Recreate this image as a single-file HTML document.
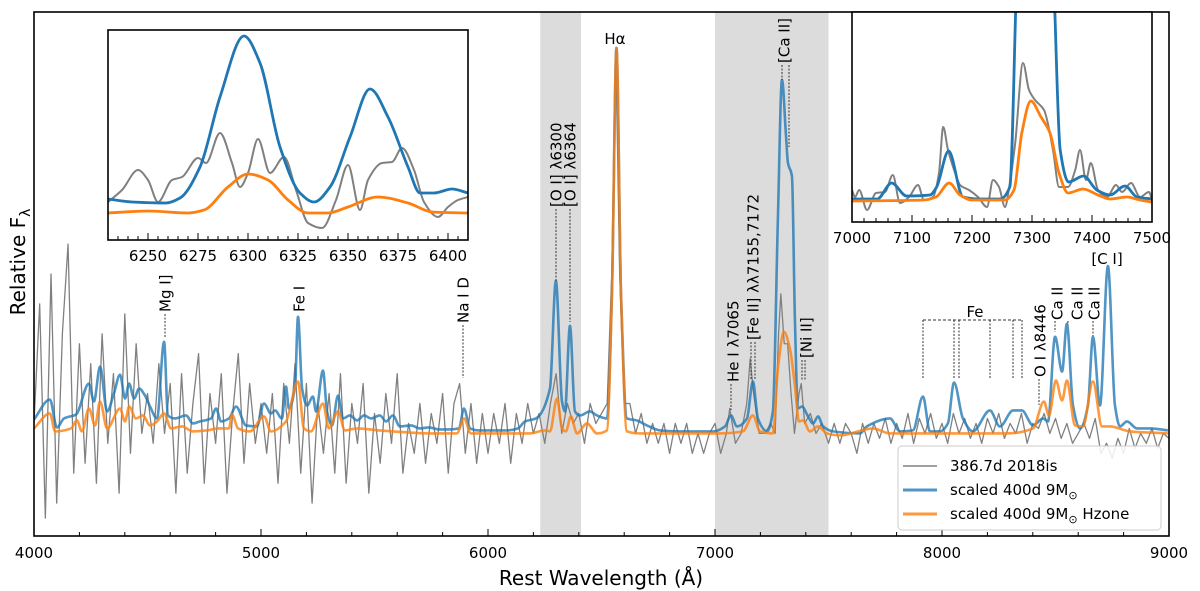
<!DOCTYPE html>
<html><head><meta charset="utf-8"><style>
body{margin:0;background:#fff;}
svg{display:block;font-family:"DejaVu Sans","Liberation Sans",sans-serif;}
</style></head><body>
<svg id="chart" width="1200" height="591" viewBox="0 0 1200 591" xmlns="http://www.w3.org/2000/svg">
<defs>
<clipPath id="mainClip"><rect x="34" y="12" width="1135" height="524"/></clipPath>
<clipPath id="lClip"><rect x="108" y="30" width="360" height="210"/></clipPath>
<clipPath id="rClip"><rect x="852" y="12" width="300" height="210"/></clipPath>
</defs>
<g id="bands"></g>
<g id="mainSeries" clip-path="url(#mainClip)"></g>
<g id="annot"></g>
<g id="axes"></g>
<g id="insetL"></g>
<g id="insetR"></g>
<g id="legend"></g>
</svg>
<script>
// ===== main spectrum data =====
const grayWlA = []; for(let w=4000;w<=6525;w+=25) grayWlA.push(w);
const grayWlB = [6545,6563,6580,6600];
const grayWlC = []; for(let w=6625;w<=7050;w+=25) grayWlC.push(w);
const grayWlD = [7065,7090,7115,7140,7155,7170,7195,7220,7245,7265,7280,7290,7305,7320,7335,7350,7370,7380,7395,7420,7445,7470];
const grayWlE = []; for(let w=7500;w<=9000;w+=25) grayWlE.push(w);
const grayWl = grayWlA.concat(grayWlB,grayWlC,grayWlD,grayWlE);
const grayFlux = [
1.1,2.3,0.15,2.6,0.3,2.0,2.9,0.6,1.9,0.7,
1.7,0.5,2.0,0.9,1.6,0.4,2.2,0.8,1.9,1.0,
1.4,0.9,1.7,1.0,1.5,0.4,1.6,0.6,1.3,1.8,
0.5,1.4,0.9,1.6,0.4,1.2,1.8,0.7,1.5,0.9,
1.3,0.8,1.4,0.5,1.5,0.9,1.7,0.6,1.5,0.3,
1.3,0.8,1.4,0.6,1.6,0.5,1.3,0.9,1.5,0.4,
1.2,0.7,1.4,0.9,1.6,0.6,1.1,0.8,1.3,0.7,
1.2,0.9,1.4,0.6,1.3,1.5,0.8,1.3,0.7,1.2,
0.8,1.2,0.9,1.3,0.7,1.2,0.9,1.3,1.0,1.2,
0.9,1.3,1.6,1.0,1.3,1.1,1.2,0.9,1.3,1.1,
1.2,1.3,
2.6,4.85,2.6,1.3,
1.3,1.0,1.2,0.9,1.1,0.9,1.1,0.8,1.1,0.9,1.1,0.8,1.0,0.8,1.0,1.1,0.8,1.0,
1.25,0.9,1.0,1.3,1.75,1.4,1.0,1.0,1.1,1.0,2.0,2.4,1.9,1.9,1.4,1.0,1.4,1.5,1.1,1.2,1.0,1.1,
0.9,1.1,0.9,1.1,1.0,0.8,1.1,0.9,1.1,0.95,
1.15,0.9,1.1,0.95,1.2,0.9,1.15,1.0,1.2,0.95,
1.1,0.9,1.2,1.0,1.15,0.95,1.1,0.9,1.15,1.0,
1.2,0.95,1.1,1.0,1.2,0.9,1.1,1.05,1.2,1.0,
1.15,0.95,1.1,0.9,1.0,1.1,0.95,1.15,0.8,0.9,
0.75,0.95,0.8,1.05,0.85,1.0,0.9,1.05,0.85,1.0,
0.95];

const blueWl = [4000,4070,4101,4132,4185,4242,4264,4291,4322,4352,4379,4401,4419,4441,4463,4489,4511,4542,4573,4590,4621,4670,4700,4731,4780,4802,4824,4859,4890,4934,4982,5013,5044,5062,5092,5110,5123,5150,5163,5181,5203,5229,5242,5273,5291,5313,5339,5361,5392,5423,5454,5485,5524,5551,5581,5612,5661,5700,5740,5784,5832,5872,5894,5921,5960,6022,6084,6132,6163,6211,6273,6299,6326,6339,6361,6383,6405,6449,6480,6524,6546,6566,6586,6612,6656,6700,6758,6846,6991,7044,7070,7097,7141,7167,7189,7229,7255,7277,7295,7313,7321,7339,7352,7365,7383,7410,7432,7454,7476,7520,7639,7669,7771,7815,7872,7916,7947,7991,8026,8053,8092,8136,8211,8255,8313,8352,8401,8445,8467,8498,8529,8550,8577,8608,8643,8665,8696,8731,8762,8784,8815,8859,8916,8995];
const blueFlux = [1.14,1.34,1.06,1.15,1.19,1.50,1.32,1.67,1.22,1.40,1.59,1.35,1.50,1.35,1.45,1.38,1.27,1.15,1.92,1.18,1.15,1.18,1.10,1.12,1.15,1.25,1.12,1.15,1.27,1.08,1.07,1.30,1.20,1.23,1.15,1.47,1.25,1.48,2.17,1.45,1.28,1.37,1.22,1.63,1.22,1.08,1.38,1.15,1.18,1.13,1.18,1.15,1.18,1.12,1.18,1.07,1.08,1.05,1.06,1.04,1.04,1.05,1.25,1.05,1.03,1.03,1.03,1.05,1.12,1.15,1.45,2.53,1.32,1.22,2.08,1.22,1.18,1.22,1.18,1.15,2.4,4.87,2.4,1.15,1.13,1.08,1.03,1.02,1.02,1.07,1.18,1.07,1.15,1.52,1.15,1.02,1.22,3.15,4.55,3.98,3.72,3.58,2.15,1.25,1.27,1.17,1.10,1.17,1.07,1.02,1.00,1.07,1.15,1.02,1.03,1.37,1.02,1.02,1.10,1.51,1.15,1.02,1.23,1.07,1.23,1.23,1.08,1.15,1.12,1.97,1.62,2.10,1.28,1.05,1.28,1.97,1.28,2.68,1.28,1.07,1.12,1.05,1.05,1.03];

const orangeWl = [4000,4070,4093,4163,4189,4211,4242,4269,4291,4322,4379,4401,4419,4449,4480,4511,4542,4573,4604,4652,4700,4762,4811,4859,4872,4899,4951,5013,5044,5110,5163,5189,5220,5273,5299,5339,5370,5423,5520,5581,5740,5863,5894,5925,6114,6185,6251,6273,6304,6326,6343,6365,6392,6436,6480,6524,6546,6566,6586,6612,6669,7022,7123,7167,7198,7255,7277,7304,7330,7352,7370,7388,7418,7454,7493,7550,7696,7771,8286,8401,8449,8471,8502,8529,8550,8586,8621,8665,8705,8740,8828,8995];
const orangeFlux = [1.05,1.20,1.02,1.05,1.13,1.02,1.25,1.08,1.32,1.05,1.25,1.12,1.27,1.15,1.18,1.08,1.12,1.20,1.05,1.07,1.02,1.03,1.05,1.05,1.19,1.05,1.02,1.17,1.02,1.12,1.52,1.05,1.02,1.30,1.05,1.22,1.03,1.05,1.03,1.02,1.00,1.00,1.15,1.00,1.00,1.00,1.03,1.02,1.35,1.05,1.02,1.17,1.00,1.10,1.00,1.03,2.4,4.87,2.4,1.02,1.00,1.00,1.02,1.18,1.02,1.00,1.65,2.02,1.85,1.48,1.12,1.13,1.02,1.07,1.00,0.98,1.05,1.00,1.00,1.05,1.32,1.18,1.53,1.33,1.53,1.08,1.07,1.52,1.07,1.07,1.02,1.00];

// ===== left inset ([O I]) data =====
const lBlueWl = [6230,6242,6259,6266,6276,6286,6298,6306,6316,6326,6333,6341,6351,6361,6370,6380,6386,6393,6402,6410];
const lBlueVal = [0.41,0.38,0.37,0.42,0.73,1.43,2.04,1.77,0.93,0.47,0.38,0.53,1.03,1.51,1.23,0.73,0.47,0.47,0.51,0.47];
const lOrangeWl = [6230,6250,6270,6278,6290,6300,6310,6320,6330,6340,6350,6365,6380,6392,6410];
const lOrangeVal = [0.27,0.29,0.27,0.30,0.53,0.66,0.60,0.40,0.27,0.27,0.33,0.43,0.37,0.28,0.27];
const lGrayWl = [6230,6237,6245,6250,6255,6262,6267,6275,6279,6286,6292,6296,6300,6305,6311,6318,6324,6330,6337,6344,6350,6356,6360,6367,6372,6377,6383,6388,6395,6400,6405,6410];
const lGrayVal = [0.38,0.50,0.70,0.60,0.38,0.60,0.63,0.82,0.77,1.07,0.77,0.53,0.67,1.01,0.67,0.83,0.50,0.17,0.12,0.40,0.75,0.30,0.60,0.77,0.78,0.92,0.70,0.38,0.23,0.33,0.40,0.43];

// ===== right inset ([Ca II]) data =====
const rBlueWl = [7000,7042,7066,7091,7130,7141,7161,7185,7213,7247,7263,7277,7300,7333,7347,7361,7386,7408,7430,7455,7475,7500];
const rBlueVal = [0.23,0.23,0.39,0.26,0.27,0.35,0.71,0.25,0.23,0.23,0.35,2.80,3.76,2.80,0.72,0.40,0.46,0.32,0.27,0.36,0.25,0.23];
const rOrangeWl = [7000,7120,7140,7162,7180,7200,7255,7270,7283,7298,7315,7330,7345,7360,7385,7410,7430,7458,7480,7500];
const rOrangeVal = [0.21,0.22,0.25,0.39,0.27,0.22,0.22,0.32,0.89,1.21,1.05,0.89,0.49,0.29,0.33,0.27,0.23,0.25,0.22,0.20];
const rGrayWl = [7000,7005,7012,7025,7040,7055,7068,7080,7095,7110,7120,7135,7145,7152,7160,7172,7180,7195,7210,7225,7235,7245,7255,7262,7272,7285,7295,7305,7320,7335,7345,7360,7372,7380,7390,7398,7410,7425,7440,7450,7465,7480,7495,7500];
const rGrayVal = [0.32,0.25,0.32,0.12,0.29,0.30,0.47,0.19,0.25,0.37,0.22,0.25,0.49,0.95,0.72,0.49,0.37,0.32,0.25,0.15,0.42,0.35,0.15,0.35,0.79,1.59,1.32,1.22,1.12,0.72,0.35,0.35,0.52,0.72,0.42,0.59,0.32,0.25,0.37,0.30,0.39,0.25,0.30,0.22];

// tick labels
const mainTicks = [4000,5000,6000,7000,8000,9000];
const lTicks = [6250,6275,6300,6325,6350,6375,6400];
const rTicks = [7000,7100,7200,7300,7400,7500];

const NS = "http://www.w3.org/2000/svg";
function mk(tag, attrs, parent){const e=document.createElementNS(NS,tag);for(const k in attrs)e.setAttribute(k,attrs[k]);parent.appendChild(e);return e;}
function lin(d0,d1,r0,r1){return v=>r0+(v-d0)*(r1-r0)/(d1-d0);}
function monoPath(xs,ys){
  const n=xs.length; if(n<2) return "";
  const dx=[],m=[],t=[];
  for(let i=0;i<n-1;i++){dx[i]=xs[i+1]-xs[i]; m[i]=dx[i]===0?0:(ys[i+1]-ys[i])/dx[i];}
  t[0]=m[0]; t[n-1]=m[n-2];
  for(let i=1;i<n-1;i++){ if(m[i-1]*m[i]<=0) t[i]=0; else { const w1=2*dx[i]+dx[i-1], w2=dx[i]+2*dx[i-1]; t[i]=(w1+w2)/(w1/m[i-1]+w2/m[i]); } }
  let d="M"+xs[0].toFixed(2)+","+ys[0].toFixed(2);
  for(let i=0;i<n-1;i++){const h=dx[i]/3;
    d+="C"+(xs[i]+h).toFixed(2)+","+(ys[i]+t[i]*h).toFixed(2)+" "+(xs[i+1]-h).toFixed(2)+","+(ys[i+1]-t[i+1]*h).toFixed(2)+" "+xs[i+1].toFixed(2)+","+ys[i+1].toFixed(2);}
  return d;
}
function linPath(xs,ys){return xs.map((x,i)=>(i?"L":"M")+x.toFixed(2)+","+ys[i].toFixed(2)).join("");}
function sortPairs(wl,v){const n=Math.min(wl.length,v.length);const p=[];for(let i=0;i<n;i++)p.push([wl[i],v[i]]);p.sort((a,b)=>a[0]-b[0]);return [p.map(q=>q[0]),p.map(q=>q[1])];}

const X=lin(4000,9000,34,1169);
const Y=lin(-0.03,5.23,536,12);

// bands
const bands=document.getElementById('bands');
let b1=mk('rect',{x:X(6230),y:12,width:X(6410)-X(6230),height:524,fill:'#dcdcdc'},bands);


let b2=mk('rect',{x:X(7000),y:12,width:X(7500)-X(7000),height:524,fill:'#dcdcdc'},bands);



const ms=document.getElementById('mainSeries');
function drawSeries(parent,wl,vals,xs,ys,stroke,w,op,name,smooth){
  const s=sortPairs(wl,vals);
  const px=s[0].map(xs), py=s[1].map(ys);
  const p=mk('path',{d:smooth?monoPath(px,py):linPath(px,py),fill:'none',stroke:stroke,'stroke-width':w,'stroke-opacity':op,'stroke-linejoin':'round'},parent);
  
  
  return p;
}
drawSeries(ms,grayWl,grayFlux,X,Y,'#808080',1.3,1,'observed-spectrum-line',false);
drawSeries(ms,blueWl,blueFlux,X,Y,'#1f77b4',2.6,0.78,'model-9msun-line',true);
drawSeries(ms,orangeWl,orangeFlux,X,Y,'#ff7f0e',2.6,0.8,'model-9msun-hzone-line',true);

// annotations
const an=document.getElementById('annot');
function vlabel(x,bottom,txt,name){
  const t=mk('text',{x:x,y:bottom,transform:`rotate(-90 ${x} ${bottom})`,'font-size':15,dy:'0.36em'},an);
  t.textContent=txt;
  
  
}
function dline(x,y1,y2){const l=mk('line',{x1:x,x2:x,y1:y1,y2:y2,stroke:'#333','stroke-width':1,'stroke-dasharray':'2,1.5'},an);
  
  }
vlabel(165,312,'Mg I]','mg-i-label'); dline(165,314,337);
vlabel(299,312,'Fe I','fe-i-label');
vlabel(463,323,'Na I D','na-i-d-label'); dline(463,325,378);
vlabel(556,207,'[O I] λ6300','oi-6300-label'); dline(556,209,282);
vlabel(570,207,'[O I] λ6364','oi-6364-label'); dline(570,209,322);
vlabel(733,382,'He I λ7065','he-i-label'); dline(731,384,410);
vlabel(753,340,'[Fe II] λλ7155,7172','fe-ii-label'); dline(751,342,380); dline(755,342,380);
vlabel(784,63,'[Ca II]','ca-ii-forbidden-label'); dline(782,65,80); dline(789,65,147);
vlabel(806,358,'[Ni II]','ni-ii-label'); dline(802,360,380); dline(805,360,380);
vlabel(1040,377,'O I λ8446','o-i-8446-label'); dline(1039,379,405);
vlabel(1057,320,'Ca II','ca-ii-8498-label'); dline(1055,321,332);
vlabel(1077,320,'Ca II','ca-ii-8542-label'); dline(1068,321,325);
vlabel(1094,320,'Ca II','ca-ii-8662-label'); dline(1093,321,336);
let ha=mk('text',{x:615,y:44,'font-size':15,'text-anchor':'middle'},an); ha.textContent='Hα';


let ci=mk('text',{x:1107,y:264,'font-size':15,'text-anchor':'middle'},an); ci.textContent='[C I]';


let fe=mk('text',{x:975,y:317,'font-size':15,'text-anchor':'middle'},an); fe.textContent='Fe';


let fb=mk('line',{x1:923,x2:1022,y1:320,y2:320,stroke:'#333','stroke-width':1,'stroke-dasharray':'3,2'},an);


[923,954,959,990,1013,1022].forEach(x=>dline(x,320,378));

// main axes
const ax=document.getElementById('axes');
let fr=mk('rect',{x:34,y:12,width:1135,height:524,fill:'none',stroke:'#000','stroke-width':1.6},ax);


for(let w=4000;w<=9000;w+=200){const maj=w%1000===0;mk('line',{x1:X(w),x2:X(w),y1:536,y2:536-(maj?7:4),stroke:'#000','stroke-width':1},ax);}
mainTicks.forEach(w=>{const t=mk('text',{x:X(w),y:558,'font-size':15,'text-anchor':'middle'},ax);t.textContent=w;
  
  });
let xl=mk('text',{x:601,y:585,'font-size':20,'text-anchor':'middle'},ax); xl.textContent='Rest Wavelength (Å)';


let yl=mk('text',{x:25,y:262,'font-size':20,'text-anchor':'middle',transform:'rotate(-90 25 262)'},ax);
yl.innerHTML='Relative F<tspan font-size="14" dy="5">λ</tspan>';



// insets
function inset(gid,x0,x1,y0,y1,d0,d1,vmax,clip,series,ticks,minorStep,majorStep,name){
  const g=document.getElementById(gid);
  
  
  mk('rect',{x:x0,y:y0,width:x1-x0,height:y1-y0,fill:'#fff'},g);
  const xs=lin(d0,d1,x0,x1), ys=lin(0,vmax,y1,y0);
  const sg=mk('g',{'clip-path':`url(#${clip})`},g);
  series.forEach(s=>drawSeries(sg,s[0],s[1],xs,ys,s[2],s[3],1,s[4],true));
  mk('rect',{x:x0,y:y0,width:x1-x0,height:y1-y0,fill:'none',stroke:'#000','stroke-width':1.6},g);
  for(let w=Math.ceil(d0/minorStep)*minorStep;w<=d1;w+=minorStep){const maj=Math.abs(w%majorStep)<1e-6;mk('line',{x1:xs(w),x2:xs(w),y1:y1,y2:y1-(maj?7:4),stroke:'#000','stroke-width':1},g);}
  ticks.forEach(w=>{const t=mk('text',{x:xs(w),y:y1+21,'font-size':15,'text-anchor':'middle'},g);t.textContent=w;
    
    });
}
inset('insetL',108,468,30,240,6230,6410,2.1,'lClip',[
  [lGrayWl,lGrayVal,'#808080',2,'inset-oi-observed'],
  [lBlueWl,lBlueVal,'#1f77b4',2.8,'inset-oi-model'],
  [lOrangeWl,lOrangeVal,'#ff7f0e',2.8,'inset-oi-model-hzone']],lTicks,5,25,'oi-inset');
inset('insetR',852,1152,12,222,7000,7500,2.1,'rClip',[
  [rGrayWl,rGrayVal,'#808080',2,'inset-caii-observed'],
  [rBlueWl,rBlueVal,'#1f77b4',2.8,'inset-caii-model'],
  [rOrangeWl,rOrangeVal,'#ff7f0e',2.8,'inset-caii-model-hzone']],rTicks,20,100,'caii-inset');

// legend
const lg=document.getElementById('legend');


mk('rect',{x:898,y:446,width:263,height:84,rx:4,fill:'#fff','fill-opacity':0.85,stroke:'#ccc','stroke-width':1},lg);
const legItems=[['386.7d 2018is','#808080',1.4,1],['scaled 400d 9M<tspan font-size="11" dy="4">⊙</tspan>','#1f77b4',3,0.78],['scaled 400d 9M<tspan font-size="11" dy="4">⊙</tspan><tspan dy="-4"> Hzone</tspan>','#ff7f0e',3,0.8]];
legItems.forEach((it,i)=>{const y=466+i*24;
  const l=mk('line',{x1:903,x2:937,y1:y,y2:y,stroke:it[1],'stroke-width':it[2],'stroke-opacity':it[3]},lg);
  
  
  const t=mk('text',{x:950,y:y+5,'font-size':15},lg); t.innerHTML=it[0];
  
  });
</script>
</body></html>
